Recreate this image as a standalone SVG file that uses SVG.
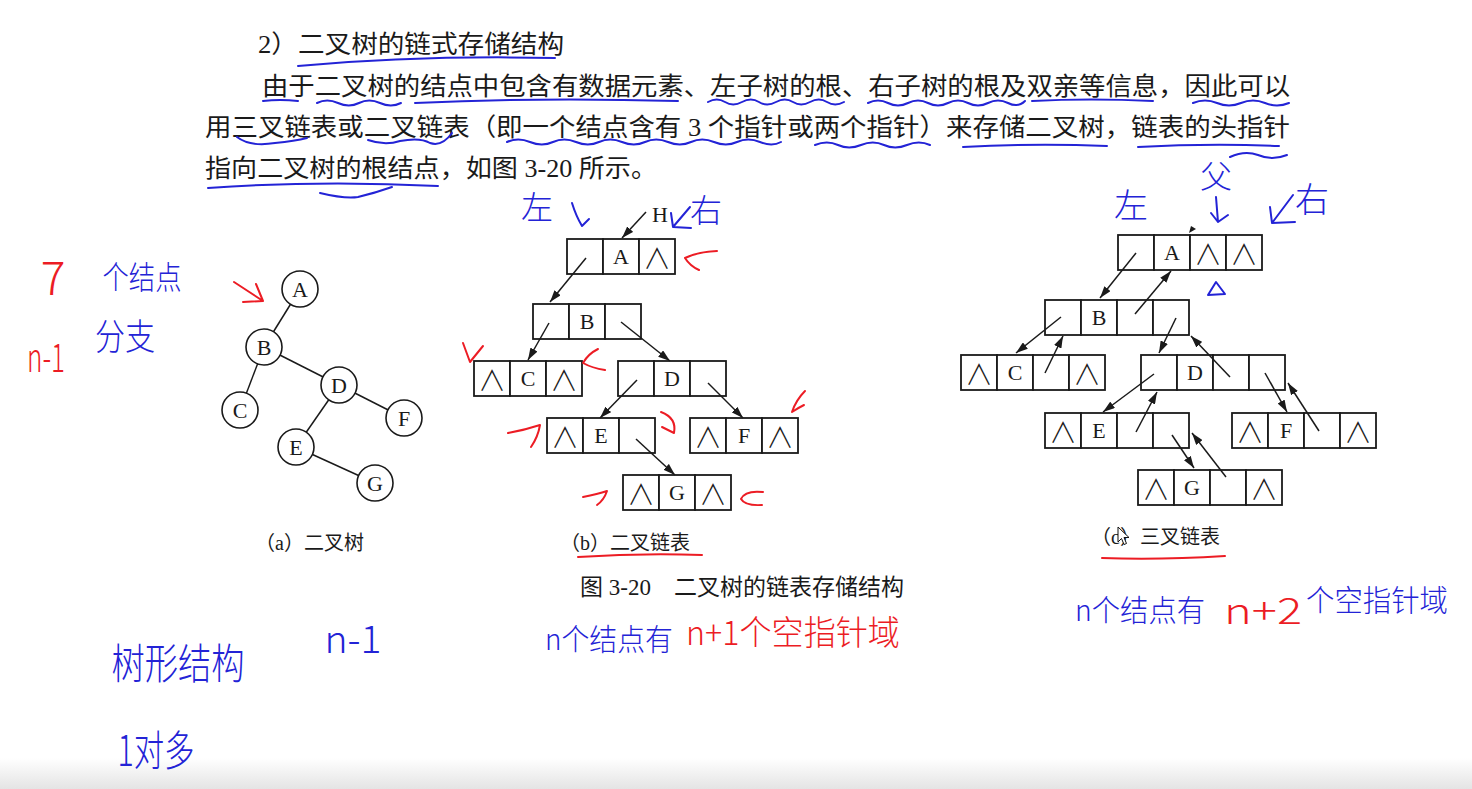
<svg xmlns="http://www.w3.org/2000/svg" width="1472" height="789" viewBox="0 0 1472 789">
<defs>
<linearGradient id="band" x1="0" y1="0" x2="0" y2="1">
<stop offset="0" stop-color="#ffffff"/>
<stop offset="1" stop-color="#e4e4e4"/>
</linearGradient>
<marker id="ah" viewBox="0 0 12 8" refX="12" refY="4" markerWidth="12" markerHeight="8" orient="auto" markerUnits="userSpaceOnUse">
<path d="M0,0 L12,4 L0,8 z" fill="#1a1a1a"/>
</marker>
</defs>
<style>
.para{font-family:"Liberation Serif","Noto Sans CJK SC",serif;font-size:25px;fill:#1a1a1a}
.cap{font-family:"Liberation Serif","Noto Sans CJK SC",serif;font-size:20px;fill:#1a1a1a}
.fig{font-family:"Liberation Serif","Noto Sans CJK SC",serif;font-size:23px;fill:#1a1a1a}
.cell{fill:#fff;stroke:#1a1a1a;stroke-width:1.8}
.lbl{font-family:"Liberation Serif",serif;font-size:22px;fill:#1a1a1a;text-anchor:middle;dominant-baseline:central}
.nil{font-family:"Noto Sans CJK SC",sans-serif;font-weight:300;font-size:28px;fill:#1a1a1a;text-anchor:middle;dominant-baseline:central}
.circ{fill:#fff;stroke:#1a1a1a;stroke-width:1.6}
.edge{stroke:#1a1a1a;stroke-width:1.5;fill:none}
.arr{stroke:#1a1a1a;stroke-width:1.5;fill:none;marker-end:url(#ah)}
.bl{stroke:#2323d6;stroke-width:2;fill:none;stroke-linecap:round;stroke-linejoin:round}
.rd{stroke:#ec1c24;stroke-width:2;fill:none;stroke-linecap:round;stroke-linejoin:round}
.hb{font-family:"Noto Sans CJK SC",sans-serif;fill:#2323d6;text-anchor:middle;dominant-baseline:central;font-weight:300}
.hr{font-family:"Noto Sans CJK SC",sans-serif;fill:#ec1c24;text-anchor:middle;dominant-baseline:central;font-weight:300}
</style>
<rect x="0" y="0" width="1472" height="789" fill="#ffffff"/>
<rect x="0" y="758" width="1472" height="31" fill="url(#band)"/>

<!-- paragraph -->
<g id="paragraph">
<text class="para" x="258" y="53" textLength="306" lengthAdjust="spacingAndGlyphs">2）二叉树的链式存储结构</text>
<text class="para" x="262" y="95" textLength="1028" lengthAdjust="spacingAndGlyphs">由于二叉树的结点中包含有数据元素、左子树的根、右子树的根及双亲等信息，因此可以</text>
<text class="para" x="205" y="136" textLength="1085" lengthAdjust="spacingAndGlyphs">用三叉链表或二叉链表（即一个结点含有 3 个指针或两个指针）来存储二叉树，链表的头指针</text>
<text class="para" x="205" y="177" textLength="452" lengthAdjust="spacingAndGlyphs">指向二叉树的根结点，如图 3-20 所示。</text>
</g>

<g id="paragraph-marks">
<path class="bl" d="M298,66 Q420,55 555,58"/>
<path class="bl" d="M263,101 Q280,99 298,101"/>
<path class="bl" d="M317,103 q10,-5 21,0 t21,0 t21,0 t21,0"/>
<path class="bl" d="M415,103 Q540,97 678,101"/>
<path class="bl" d="M708,102 q9,-5 17,0 t17,0 t17,0 t17,0 t17,0 t17,0 t17,0 t17,0"/>
<path class="bl" d="M868,103 q10,-5 20,0 t20,0 t20,0 t20,0 t20,0 t20,0 t20,0 t17,-2"/>
<path class="bl" d="M1032,101 Q1090,98 1153,101"/>
<path class="bl" d="M1193,103 q12,-5 24,0 t24,0 t24,0 t24,0"/>
<path class="bl" d="M237,137 Q250,147 275,143 Q295,141 307,138"/>
<path class="bl" d="M368,140 Q385,146 400,141 Q420,137 430,143 Q442,147 452,133"/>
<path class="bl" d="M507,142 q11,-5 23,0 t23,0 t23,0 t23,0 t23,0 t23,0 t23,0 t23,0 t23,0 t23,0 t23,0 t21,0"/>
<path class="bl" d="M815,145 q12,-5 23,0 t23,0 t23,0 t23,0 t23,0"/>
<path class="bl" d="M963,147 Q1035,143 1107,146"/>
<path class="bl" d="M1138,147 Q1210,143 1279,146"/>
<path class="bl" d="M1230,157 Q1245,150 1258,155 Q1272,161 1287,155"/>
<path class="bl" d="M208,188 Q320,180 438,186"/>
<path class="bl" d="M320,193 Q345,199 358,197 Q375,193 392,187"/>
</g>

<!-- connectors -->
<g id="connectors">
<line class="edge" x1="300" y1="289" x2="264" y2="347"/>
<line class="edge" x1="264" y1="347" x2="240" y2="410"/>
<line class="edge" x1="264" y1="347" x2="339" y2="385"/>
<line class="edge" x1="339" y1="385" x2="296" y2="447"/>
<line class="edge" x1="339" y1="385" x2="404" y2="418"/>
<line class="edge" x1="296" y1="447" x2="375" y2="483"/>
</g>

<!-- (a) binary tree -->
<g id="a-A"><circle class="circ" cx="300" cy="289" r="18"/><text class="lbl" x="300" y="289">A</text></g>
<g id="a-B"><circle class="circ" cx="264" cy="347" r="18"/><text class="lbl" x="264" y="347">B</text></g>
<g id="a-C"><circle class="circ" cx="240" cy="410" r="18"/><text class="lbl" x="240" y="410">C</text></g>
<g id="a-D"><circle class="circ" cx="339" cy="385" r="18"/><text class="lbl" x="339" y="385">D</text></g>
<g id="a-E"><circle class="circ" cx="296" cy="447" r="18"/><text class="lbl" x="296" y="447">E</text></g>
<g id="a-F"><circle class="circ" cx="404" cy="418" r="18"/><text class="lbl" x="404" y="418">F</text></g>
<g id="a-G"><circle class="circ" cx="375" cy="483" r="18"/><text class="lbl" x="375" y="483">G</text></g>

<!-- (b) binary linked list -->
<g id="b-A"><rect class="cell" x="567" y="239" width="36" height="35"/><rect class="cell" x="603" y="239" width="36" height="35"/><rect class="cell" x="639" y="239" width="36" height="35"/><text class="lbl" x="621" y="256.5">A</text><text class="nil" x="657" y="256.5">∧</text></g>
<g id="b-B"><rect class="cell" x="533" y="304" width="36" height="35"/><rect class="cell" x="569" y="304" width="36" height="35"/><rect class="cell" x="605" y="304" width="36" height="35"/><text class="lbl" x="587" y="321.5">B</text></g>
<g id="b-C"><rect class="cell" x="474" y="361" width="36" height="35"/><rect class="cell" x="510" y="361" width="36" height="35"/><rect class="cell" x="546" y="361" width="36" height="35"/><text class="nil" x="492" y="378.5">∧</text><text class="lbl" x="528" y="378.5">C</text><text class="nil" x="564" y="378.5">∧</text></g>
<g id="b-D"><rect class="cell" x="618" y="361" width="36" height="35"/><rect class="cell" x="654" y="361" width="36" height="35"/><rect class="cell" x="690" y="361" width="36" height="35"/><text class="lbl" x="672" y="378.5">D</text></g>
<g id="b-E"><rect class="cell" x="547" y="418" width="36" height="35"/><rect class="cell" x="583" y="418" width="36" height="35"/><rect class="cell" x="619" y="418" width="36" height="35"/><text class="nil" x="565" y="435.5">∧</text><text class="lbl" x="601" y="435.5">E</text></g>
<g id="b-F"><rect class="cell" x="690" y="418" width="36" height="35"/><rect class="cell" x="726" y="418" width="36" height="35"/><rect class="cell" x="762" y="418" width="36" height="35"/><text class="nil" x="708" y="435.5">∧</text><text class="lbl" x="744" y="435.5">F</text><text class="nil" x="780" y="435.5">∧</text></g>
<g id="b-G"><rect class="cell" x="623" y="475" width="36" height="35"/><rect class="cell" x="659" y="475" width="36" height="35"/><rect class="cell" x="695" y="475" width="36" height="35"/><text class="nil" x="641" y="492.5">∧</text><text class="lbl" x="677" y="492.5">G</text><text class="nil" x="713" y="492.5">∧</text></g>
<g id="b-H"><text class="lbl" x="660" y="214">H</text></g>

<!-- (c) triple linked list -->
<g id="c-A"><rect class="cell" x="1118" y="235" width="36" height="35"/><rect class="cell" x="1154" y="235" width="36" height="35"/><rect class="cell" x="1190" y="235" width="36" height="35"/><rect class="cell" x="1226" y="235" width="36" height="35"/><text class="lbl" x="1172" y="252.5">A</text><text class="nil" x="1208" y="252.5">∧</text><text class="nil" x="1244" y="252.5">∧</text></g>
<g id="c-B"><rect class="cell" x="1045" y="300" width="36" height="35"/><rect class="cell" x="1081" y="300" width="36" height="35"/><rect class="cell" x="1117" y="300" width="36" height="35"/><rect class="cell" x="1153" y="300" width="36" height="35"/><text class="lbl" x="1099" y="317.5">B</text></g>
<g id="c-C"><rect class="cell" x="961" y="355" width="36" height="35"/><rect class="cell" x="997" y="355" width="36" height="35"/><rect class="cell" x="1033" y="355" width="36" height="35"/><rect class="cell" x="1069" y="355" width="36" height="35"/><text class="nil" x="979" y="372.5">∧</text><text class="lbl" x="1015" y="372.5">C</text><text class="nil" x="1087" y="372.5">∧</text></g>
<g id="c-D"><rect class="cell" x="1141" y="355" width="36" height="35"/><rect class="cell" x="1177" y="355" width="36" height="35"/><rect class="cell" x="1213" y="355" width="36" height="35"/><rect class="cell" x="1249" y="355" width="36" height="35"/><text class="lbl" x="1195" y="372.5">D</text></g>
<g id="c-E"><rect class="cell" x="1045" y="413" width="36" height="35"/><rect class="cell" x="1081" y="413" width="36" height="35"/><rect class="cell" x="1117" y="413" width="36" height="35"/><rect class="cell" x="1153" y="413" width="36" height="35"/><text class="nil" x="1063" y="430.5">∧</text><text class="lbl" x="1099" y="430.5">E</text></g>
<g id="c-F"><rect class="cell" x="1232" y="413" width="36" height="35"/><rect class="cell" x="1268" y="413" width="36" height="35"/><rect class="cell" x="1304" y="413" width="36" height="35"/><rect class="cell" x="1340" y="413" width="36" height="35"/><text class="nil" x="1250" y="430.5">∧</text><text class="lbl" x="1286" y="430.5">F</text><text class="nil" x="1358" y="430.5">∧</text></g>
<g id="c-G"><rect class="cell" x="1138" y="470" width="36" height="35"/><rect class="cell" x="1174" y="470" width="36" height="35"/><rect class="cell" x="1210" y="470" width="36" height="35"/><rect class="cell" x="1246" y="470" width="36" height="35"/><text class="nil" x="1156" y="487.5">∧</text><text class="lbl" x="1192" y="487.5">G</text><text class="nil" x="1264" y="487.5">∧</text></g>

<!-- pointer arrows -->
<g id="pointer-arrows">
<path class="arr" d="M646,212 L622,238"/>
<path class="arr" d="M586,258 L550,302"/>
<path class="arr" d="M549,323 L528,360"/>
<path class="arr" d="M621,322 L670,361"/>
<path class="arr" d="M637,380 L600,418"/>
<path class="arr" d="M708,383 L743,418"/>
<path class="arr" d="M636,439 L675,475"/>
<path d="M1189,233 L1191,226 L1196,229 Z" fill="#1a1a1a"/>
<path class="arr" d="M1136,253 L1100,298"/>
<path class="arr" d="M1135,314 L1171,271"/>
<path class="arr" d="M1061,317 L1016,353"/>
<path class="arr" d="M1045,373 L1063,336"/>
<path class="arr" d="M1176,318 L1159,353"/>
<path class="arr" d="M1230,377 L1191,336"/>
<path class="arr" d="M1154,374 L1103,412"/>
<path class="arr" d="M1136,432 L1157,392"/>
<path class="arr" d="M1265,373 L1287,412"/>
<path class="arr" d="M1319,431 L1288,383"/>
<path class="arr" d="M1172,435 L1194,468"/>
<path class="arr" d="M1226,477 L1192,433"/>
</g>

<!-- captions -->
<g id="captions">
<text class="cap" x="255" y="550">（a）二叉树</text>
<text class="cap" x="560" y="550">（b）二叉链表</text>
<text class="fig" x="580" y="595">图 3-20　二叉树的链表存储结构</text>
<text class="cap" x="1091" y="544">（c）三叉链表</text>
<path d="M1118,527 L1118,542 L1121.5,538.5 L1124,544.5 L1126.5,543.5 L1124,537.5 L1129,537.5 Z" fill="#fff" stroke="#111" stroke-width="1"/>
</g>

<!-- handwritten annotations -->
<g id="annotations">
<path class="rd" d="M578,557 Q640,553 702,555"/>
<path class="rd" d="M1102,558 Q1160,560 1225,556"/>
<path class="rd" d="M234,282 L263,301 M256,284 L263,301 L243,302"/>
<path class="bl" d="M572,203 Q576,216 582,226 L589,219"/>
<path class="bl" d="M690,207 L673,227 M671,213 L673,227 L691,228"/>
<path class="rd" d="M717,251 Q697,252 685,258 Q690,266 699,270"/>
<path class="rd" d="M463,343 L470,362 L483,346"/>
<path class="rd" d="M598,349 Q588,354 583,363 Q592,368 605,370"/>
<path class="rd" d="M508,433 Q525,430 540,425 Q538,437 531,447"/>
<path class="rd" d="M661,412 Q677,418 674,433 L662,427"/>
<path class="rd" d="M805,391 Q796,400 792,412 Q798,408 804,405"/>
<path class="rd" d="M583,497 Q598,494 607,491 Q604,500 597,505"/>
<path class="rd" d="M763,492 Q745,490 741,499 Q745,506 762,505"/>
<path class="bl" d="M1216,197 L1218,222 M1211,213 L1218,222 L1228,215"/>
<path class="bl" d="M1293,195 L1272,223 M1270,207 L1272,223 L1295,222"/>
<path class="bl" d="M1208,295 L1216,282 L1225,294 Z"/>

<text class="hb" x="537" y="205" font-size="32">左</text>
<text class="hb" x="706" y="208" font-size="32">右</text>
<text class="hb" x="1131" y="203" font-size="34">左</text>
<text class="hb" x="1216" y="174" font-size="32">父</text>
<text class="hb" x="1312" y="197" font-size="34">右</text>

<text class="hr" x="53" y="275" font-size="46">7</text>
<text class="hb" x="142" y="275" font-size="32" textLength="79" lengthAdjust="spacingAndGlyphs">个结点</text>
<text class="hr" x="46" y="355" font-size="40" textLength="38" lengthAdjust="spacingAndGlyphs">n-1</text>
<text class="hb" x="125" y="334" font-size="36" textLength="60" lengthAdjust="spacingAndGlyphs">分支</text>

<text class="hb" x="178" y="660" font-size="42" textLength="133" lengthAdjust="spacingAndGlyphs">树形结构</text>
<text class="hb" x="353" y="636" font-size="38" textLength="57" lengthAdjust="spacingAndGlyphs">n-1</text>
<text class="hb" x="156" y="747" font-size="42" textLength="77" lengthAdjust="spacingAndGlyphs">1对多</text>

<text class="hb" x="609" y="637" font-size="30" textLength="128" lengthAdjust="spacingAndGlyphs">n个结点有</text>
<text class="hr" x="793" y="630" font-size="34" textLength="214" lengthAdjust="spacingAndGlyphs">n+1个空指针域</text>

<text class="hb" x="1140" y="608" font-size="30" textLength="130" lengthAdjust="spacingAndGlyphs">n个结点有</text>
<text class="hr" x="1263" y="608" font-size="36" textLength="78" lengthAdjust="spacingAndGlyphs">n+2</text>
<text class="hb" x="1377" y="598" font-size="30" textLength="142" lengthAdjust="spacingAndGlyphs">个空指针域</text>
</g>
</svg>
